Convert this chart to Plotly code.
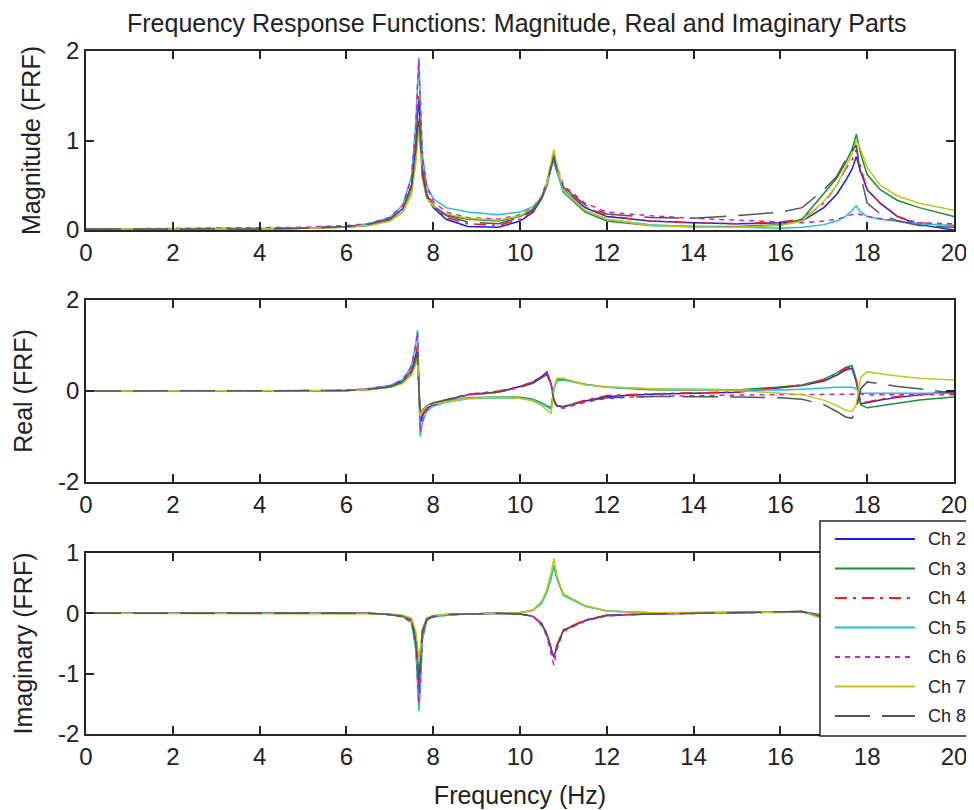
import plotly.graph_objects as go

# frequency grid (Hz) shared by all channels
freq = [0, 4, 5, 6, 6.5, 7.0, 7.3, 7.5, 7.6, 7.64, 7.67, 7.70, 7.75, 7.85, 8.0,
        8.3, 8.8, 9.5, 10.0, 10.3, 10.5, 10.62, 10.72, 10.78, 10.85, 11.0, 11.5,
        12.0, 13.0, 14.0, 15.0, 16.0, 16.5, 17.0, 17.3, 17.5, 17.65, 17.75, 17.85,
        18.0, 18.3, 18.7, 19.2, 20.0]

# magnitude |FRF|
mag_ch2 = [0.01, 0.02, 0.02, 0.04, 0.06, 0.12, 0.24, 0.5, 0.95, 1.3, 1.45, 1.2, 0.7, 0.4, 0.25,
           0.12, 0.04, 0.03, 0.1, 0.2, 0.35, 0.5, 0.7, 0.78, 0.65, 0.45, 0.25,
           0.15, 0.1, 0.08, 0.07, 0.08, 0.1, 0.25, 0.4, 0.55, 0.68, 0.82, 0.65,
           0.45, 0.3, 0.15, 0.06, 0.0]
mag_ch3 = [0.01, 0.01, 0.02, 0.03, 0.05, 0.1, 0.2, 0.42, 0.8, 1.05, 1.2, 1.0, 0.6, 0.36, 0.26,
           0.17, 0.12, 0.1, 0.15, 0.22, 0.35, 0.5, 0.72, 0.85, 0.68, 0.42, 0.2,
           0.1, 0.05, 0.04, 0.04, 0.06, 0.12, 0.4, 0.58, 0.75, 0.9, 1.07, 0.85,
           0.62, 0.45, 0.33, 0.25, 0.15]
mag_ch4 = [0.01, 0.02, 0.02, 0.04, 0.06, 0.12, 0.24, 0.5, 1.0, 1.35, 1.5, 1.25, 0.72, 0.42, 0.28,
           0.14, 0.07, 0.05, 0.12, 0.22, 0.36, 0.52, 0.72, 0.8, 0.66, 0.46, 0.26,
           0.16, 0.1, 0.08, 0.07, 0.09, 0.12, 0.3, 0.5, 0.68, 0.78, 0.9, 0.7,
           0.45, 0.3, 0.15, 0.08, 0.05]
mag_ch5 = [0.01, 0.01, 0.02, 0.04, 0.07, 0.14, 0.28, 0.6, 1.2, 1.7, 1.93, 1.5, 0.85, 0.5, 0.35,
           0.25, 0.2, 0.17, 0.2, 0.26, 0.37, 0.52, 0.68, 0.8, 0.65, 0.42, 0.22,
           0.12, 0.06, 0.04, 0.03, 0.02, 0.03, 0.06, 0.1, 0.15, 0.22, 0.27, 0.2,
           0.15, 0.12, 0.1, 0.07, 0.05]
mag_ch6 = [0.01, 0.02, 0.03, 0.05, 0.07, 0.14, 0.28, 0.58, 1.15, 1.65, 1.9, 1.45, 0.82, 0.48, 0.32,
           0.2, 0.14, 0.12, 0.17, 0.25, 0.38, 0.55, 0.76, 0.88, 0.72, 0.5, 0.3,
           0.2, 0.16, 0.13, 0.11, 0.09, 0.08, 0.1, 0.12, 0.15, 0.17, 0.19, 0.17,
           0.15, 0.13, 0.1, 0.08, 0.07]
mag_ch7 = [0.01, 0.01, 0.02, 0.03, 0.05, 0.1, 0.2, 0.4, 0.75, 1.0, 1.15, 0.95, 0.58, 0.36, 0.27,
           0.18, 0.13, 0.11, 0.16, 0.24, 0.37, 0.53, 0.76, 0.9, 0.72, 0.45, 0.22,
           0.12, 0.05, 0.03, 0.03, 0.05, 0.1, 0.32, 0.5, 0.7, 0.85, 1.0, 0.9,
           0.7, 0.5, 0.38, 0.3, 0.22]
mag_ch8 = [0.01, 0.01, 0.02, 0.04, 0.06, 0.12, 0.24, 0.48, 0.9, 1.15, 1.3, 1.05, 0.62, 0.38, 0.27,
           0.16, 0.09, 0.07, 0.14, 0.23, 0.36, 0.53, 0.72, 0.82, 0.68, 0.48, 0.28,
           0.18, 0.14, 0.13, 0.16, 0.2, 0.25, 0.45, 0.6, 0.78, 0.88, 0.95, 0.6,
           0.3, 0.18, 0.1, 0.05, 0.03]

# real part
re_ch2 = [0, 0, 0, 0.01, 0.04, 0.1, 0.22, 0.45, 0.8, 0.95, 0.1, -0.7, -0.55, -0.38, -0.3,
          -0.2, -0.08, -0.02, 0.1, 0.2, 0.32, 0.42, 0.15, -0.2, -0.33, -0.35, -0.22,
          -0.12, -0.07, -0.05, -0.03, 0.07, 0.12, 0.22, 0.35, 0.46, 0.5, 0.2, -0.28,
          -0.26, -0.2, -0.14, -0.08, 0.0]
re_ch3 = [0, 0, 0, 0.01, 0.03, 0.08, 0.18, 0.38, 0.62, 0.75, 0.05, -0.5, -0.42, -0.32, -0.27,
          -0.22, -0.15, -0.13, -0.14, -0.18, -0.26, -0.33, -0.36, 0.05, 0.25, 0.26, 0.15,
          0.08, 0.03, 0.02, 0.02, 0.09, 0.13, 0.26, 0.4, 0.52, 0.56, 0.25, -0.3,
          -0.37, -0.33, -0.27, -0.2, -0.13]
re_ch4 = [0, 0, 0, 0.01, 0.04, 0.1, 0.22, 0.46, 0.85, 1.0, 0.1, -0.6, -0.5, -0.36, -0.28,
          -0.19, -0.07, 0.0, 0.1, 0.2, 0.3, 0.4, 0.14, -0.2, -0.32, -0.34, -0.2,
          -0.1, -0.06, -0.04, -0.02, 0.09, 0.13, 0.24, 0.38, 0.5, 0.52, 0.2, -0.25,
          -0.24, -0.18, -0.12, -0.07, -0.02]
re_ch5 = [0, 0, 0, 0.01, 0.05, 0.12, 0.25, 0.55, 1.05, 1.34, 0.15, -1.0, -0.7, -0.45, -0.33,
          -0.25, -0.17, -0.15, -0.16, -0.2, -0.28, -0.35, -0.4, 0.05, 0.22, 0.24, 0.14,
          0.09, 0.05, 0.04, 0.03, 0.02, 0.04, 0.07, 0.08, 0.08, 0.08, 0.05, -0.05,
          -0.05, -0.05, -0.05, -0.05, -0.05]
re_ch6 = [0, 0, 0, 0.02, 0.05, 0.12, 0.25, 0.55, 1.02, 1.3, 0.15, -0.9, -0.65, -0.42, -0.32,
          -0.21, -0.09, -0.03, 0.08, 0.18, 0.3, 0.4, 0.12, -0.22, -0.35, -0.38, -0.25,
          -0.16, -0.12, -0.1, -0.09, -0.08, -0.08, -0.08, -0.08, -0.08, -0.07, -0.05, -0.06,
          -0.08, -0.08, -0.08, -0.08, -0.08]
re_ch7 = [0, 0, 0, 0.01, 0.03, 0.08, 0.17, 0.35, 0.58, 0.7, 0.05, -0.55, -0.45, -0.34, -0.28,
          -0.23, -0.16, -0.14, -0.16, -0.22, -0.32, -0.42, -0.5, 0.08, 0.28, 0.28, 0.13,
          0.09, 0.05, 0.03, 0.01, -0.05, -0.08, -0.2, -0.32, -0.42, -0.45, -0.3, 0.3,
          0.42, 0.38, 0.33, 0.28, 0.24]
re_ch8 = [0, 0, 0, 0.01, 0.04, 0.09, 0.2, 0.42, 0.72, 0.85, 0.05, -0.45, -0.4, -0.32, -0.26,
          -0.19, -0.08, -0.02, 0.08, 0.17, 0.28, 0.36, 0.12, -0.2, -0.32, -0.34, -0.22,
          -0.15, -0.12, -0.12, -0.13, -0.15, -0.18, -0.3, -0.45, -0.57, -0.6, -0.4, 0.05,
          0.2, 0.15, 0.1, 0.05, -0.05]

# imaginary part
im_ch2 = [0, 0, 0, 0, 0, -0.02, -0.05, -0.12, -0.45, -1.0, -1.35, -1.1, -0.35, -0.1, -0.05,
          -0.02, -0.01, 0, -0.01, -0.05, -0.18, -0.35, -0.6, -0.73, -0.55, -0.28, -0.12,
          -0.03, -0.01, 0, 0.01, 0.02, 0.03, -0.05, -0.2, -0.35, -0.55, -0.8, -0.55,
          -0.35, -0.22, -0.12, -0.06, -0.02]
im_ch3 = [0, 0, 0, 0, 0, -0.02, -0.04, -0.1, -0.35, -0.75, -1.0, -0.8, -0.3, -0.08, -0.04,
          -0.02, -0.01, 0, 0.01, 0.05, 0.18, 0.36, 0.6, 0.78, 0.58, 0.3, 0.12,
          0.04, 0.01, 0.01, 0.01, 0.02, 0.03, -0.08, -0.3, -0.5, -0.75, -1.0, -0.75,
          -0.5, -0.3, -0.18, -0.1, -0.05]
im_ch4 = [0, 0, 0, 0, 0, -0.02, -0.05, -0.12, -0.5, -0.95, -1.2, -1.0, -0.35, -0.1, -0.05,
          -0.02, -0.01, 0, -0.01, -0.05, -0.17, -0.33, -0.58, -0.7, -0.52, -0.27, -0.11,
          -0.03, -0.01, 0, 0.01, 0.02, 0.03, -0.06, -0.25, -0.42, -0.6, -0.85, -0.6,
          -0.35, -0.22, -0.1, -0.05, -0.02]
im_ch5 = [0, 0, 0, 0, 0, -0.02, -0.06, -0.15, -0.6, -1.2, -1.62, -1.3, -0.45, -0.12, -0.06,
          -0.03, -0.01, 0, 0.01, 0.05, 0.17, 0.35, 0.58, 0.8, 0.6, 0.3, 0.12,
          0.04, 0.01, 0.01, 0.01, 0.01, 0.02, -0.02, -0.05, -0.1, -0.18, -0.25, -0.18,
          -0.12, -0.08, -0.06, -0.04, -0.03]
im_ch6 = [0, 0, 0, 0, 0, -0.02, -0.06, -0.15, -0.55, -1.1, -1.5, -1.2, -0.4, -0.12, -0.06,
          -0.03, -0.01, 0, -0.01, -0.05, -0.2, -0.38, -0.65, -0.86, -0.6, -0.3, -0.13,
          -0.04, -0.01, 0, 0.01, 0.02, 0.02, -0.03, -0.06, -0.1, -0.14, -0.17, -0.14,
          -0.1, -0.08, -0.06, -0.04, -0.03]
im_ch7 = [0, 0, 0, 0, 0, -0.01, -0.03, -0.08, -0.3, -0.55, -0.75, -0.6, -0.25, -0.08, -0.04,
          -0.02, -0.01, 0, 0.01, 0.06, 0.2, 0.4, 0.68, 0.91, 0.62, 0.32, 0.13,
          0.04, 0.01, 0.01, 0.01, 0.02, 0.03, -0.1, -0.3, -0.5, -0.7, -0.95, -0.8,
          -0.55, -0.35, -0.22, -0.15, -0.08]
im_ch8 = [0, 0, 0, 0, 0, -0.02, -0.05, -0.12, -0.48, -0.85, -1.1, -0.9, -0.3, -0.1, -0.05,
          -0.02, -0.01, 0, -0.01, -0.05, -0.17, -0.35, -0.6, -0.75, -0.55, -0.28, -0.12,
          -0.04, -0.01, 0, 0.01, 0.02, 0.03, -0.05, -0.2, -0.45, -0.65, -0.85, -0.6,
          -0.3, -0.15, -0.08, -0.04, -0.02]

channels = ["Ch 2", "Ch 3", "Ch 4", "Ch 5", "Ch 6", "Ch 7", "Ch 8"]
x_ticks = [0, 2, 4, 6, 8, 10, 12, 14, 16, 18, 20]
mag_ticks = [0, 1, 2]
re_ticks = [-2, 0, 2]
im_ticks = [-2, -1, 0, 1]

colors = ["#1a1aff", "#1a9030", "#ff1a1a", "#20c4c4", "#cc20cc", "#c4c420", "#555555"]
dashes = ["solid", "solid", "12px,6px,3px,6px", "solid", "5px,5px", "solid", "35px,12px"]

mags = [mag_ch2, mag_ch3, mag_ch4, mag_ch5, mag_ch6, mag_ch7, mag_ch8]
reals = [re_ch2, re_ch3, re_ch4, re_ch5, re_ch6, re_ch7, re_ch8]
imags = [im_ch2, im_ch3, im_ch4, im_ch5, im_ch6, im_ch7, im_ch8]
for s in mags + reals + imags:
    assert len(s) == len(freq), len(s)

# the page body has an 8px margin, so the figure is shifted by that much
OFF = 8
W, H = 974 - OFF, 810 - OFF
L, R, T, B = 86 - OFF, 954 - OFF, 51 - OFF, 734 - OFF   # outer box of the three axes
FONT = "Liberation Sans, Arial, sans-serif"
AX = "#262626"


def px(x):
    # page pixel -> paper x
    return (x - OFF - L) / (R - L)


def py(y):
    # page pixel -> paper y
    return (B - (y - OFF)) / (B - T)


fig = go.Figure()
for rows, ax in ((mags, ""), (reals, "2"), (imags, "3")):
    for k, name in enumerate(channels):
        fig.add_trace(go.Scatter(
            x=freq, y=rows[k], mode="lines", name=name, showlegend=False,
            line=dict(color=colors[k], width=1.5, dash=dashes[k]),
            xaxis="x" + ax, yaxis="y" + ax))

axis_style = dict(showline=True, linecolor=AX, linewidth=1.5, mirror="ticks",
                  ticks="inside", ticklen=8, tickwidth=1.5, tickcolor=AX,
                  showgrid=False, zeroline=False, automargin=False,
                  tickfont=dict(size=24, color="#222", family=FONT))
xaxis_style = dict(axis_style, domain=[0, 1], range=[0, 20], tickvals=x_ticks)


def ytitle(text):
    return dict(text=text, font=dict(size=25), standoff=18)


fig.update_layout(
    width=W, height=H, margin=dict(l=L, r=W - R, t=T, b=H - B, autoexpand=False),
    paper_bgcolor="white", plot_bgcolor="white",
    font=dict(family=FONT, color="#222"),
    xaxis=dict(xaxis_style, anchor="y"),
    yaxis=dict(axis_style, domain=[py(230), 1], range=[0, 2], tickvals=mag_ticks,
               anchor="x", title=ytitle("Magnitude (FRF)")),
    xaxis2=dict(xaxis_style, anchor="y2"),
    yaxis2=dict(axis_style, domain=[py(482), py(300)], range=[-2, 2], tickvals=re_ticks,
                ticktext=[str(v) for v in re_ticks], anchor="x2", title=ytitle("Real (FRF)")),
    xaxis3=dict(xaxis_style, anchor="y3",
                title=dict(text="Frequency (Hz)", font=dict(size=25), standoff=18)),
    yaxis3=dict(axis_style, domain=[0, py(553)], range=[-2, 1], tickvals=im_ticks,
                ticktext=[str(v) for v in im_ticks], anchor="x3",
                title=ytitle("Imaginary (FRF)")),
)

fig.add_annotation(text="Frequency Response Functions: Magnitude, Real and Imaginary Parts",
                   xref="paper", yref="paper", x=px(517), y=py(23), showarrow=False,
                   xanchor="center", yanchor="middle", font=dict(size=25, color="#222"))

# legend box drawn like the MATLAB legend (long line samples)
fig.add_shape(type="rect", xref="paper", yref="paper", x0=px(820), x1=px(971),
              y0=py(736), y1=py(521), fillcolor="white", line=dict(color=AX, width=1.5),
              layer="above")
for k, name in enumerate(channels):
    yy = py(539 + 29.5 * k)
    fig.add_shape(type="line", xref="paper", yref="paper", x0=px(835), x1=px(915),
                  y0=yy, y1=yy, line=dict(color=colors[k], width=2, dash=dashes[k]),
                  layer="above")
    fig.add_annotation(text=name, xref="paper", yref="paper", x=px(926), y=yy,
                       xanchor="left", yanchor="middle", showarrow=False,
                       font=dict(size=18, color="#222"))

fig.write_html("out.html")
